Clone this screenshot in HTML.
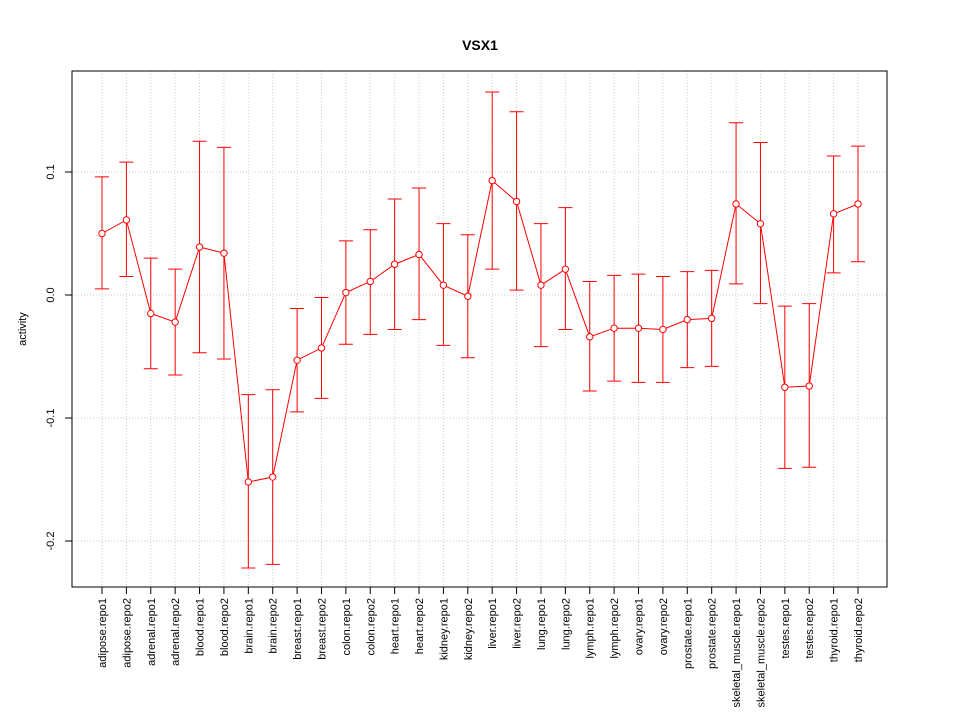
<!DOCTYPE html>
<html><head><meta charset="utf-8"><style>
body{margin:0;background:#fff;}
svg text{font-family:"Liberation Sans",sans-serif;}
</style></head><body>
<svg id="chart" width="960" height="720" xmlns="http://www.w3.org/2000/svg">
<rect width="960" height="720" fill="#fff"/>
<text x="480" y="50" text-anchor="middle" font-size="14" font-weight="bold">VSX1</text>
<text x="0" y="0" transform="translate(26,329) rotate(-90)" text-anchor="middle" font-size="11">activity</text>
<g id="grid"></g><g id="axes"></g><g id="marks"></g>
<rect x="72" y="71" width="815" height="516" fill="none" stroke="#000"/>
</svg>
<script>
const categories=["adipose.repo1","adipose.repo2","adrenal.repo1","adrenal.repo2","blood.repo1","blood.repo2","brain.repo1","brain.repo2","breast.repo1","breast.repo2","colon.repo1","colon.repo2","heart.repo1","heart.repo2","kidney.repo1","kidney.repo2","liver.repo1","liver.repo2","lung.repo1","lung.repo2","lymph.repo1","lymph.repo2","ovary.repo1","ovary.repo2","prostate.repo1","prostate.repo2","skeletal_muscle.repo1","skeletal_muscle.repo2","testes.repo1","testes.repo2","thyroid.repo1","thyroid.repo2"];
const values=[0.050,0.061,-0.015,-0.022,0.039,0.034,-0.152,-0.148,-0.053,-0.043,0.002,0.011,0.025,0.033,0.008,-0.001,0.093,0.076,0.008,0.021,-0.034,-0.027,-0.027,-0.028,-0.020,-0.019,0.074,0.058,-0.075,-0.074,0.066,0.074];
const upper=[0.096,0.108,0.030,0.021,0.125,0.120,-0.081,-0.077,-0.011,-0.002,0.044,0.053,0.078,0.087,0.058,0.049,0.165,0.149,0.058,0.071,0.011,0.016,0.017,0.015,0.019,0.020,0.140,0.124,-0.009,-0.007,0.113,0.121];
const lower=[0.005,0.015,-0.060,-0.065,-0.047,-0.052,-0.222,-0.219,-0.095,-0.084,-0.040,-0.032,-0.028,-0.020,-0.041,-0.051,0.021,0.004,-0.042,-0.028,-0.078,-0.070,-0.071,-0.071,-0.059,-0.058,0.009,-0.007,-0.141,-0.140,0.018,0.027];
const yTicks=[-0.2,-0.1,0.0,0.1];
const yTickLabels=["-0.2","-0.1","0.0","0.1"];
const NS="http://www.w3.org/2000/svg";
const xS=i=>102+i*(858-102)/(categories.length-1);
const yS=v=>295-v*1230;
function mk(tag,attrs,parent){const e=document.createElementNS(NS,tag);for(const k in attrs)e.setAttribute(k,attrs[k]);parent.appendChild(e);return e;}
const grid=document.getElementById('grid'),axes=document.getElementById('axes'),marks=document.getElementById('marks');
categories.forEach((c,i)=>{
 const g=mk('line',{x1:xS(i),x2:xS(i),y1:71,y2:587,stroke:'#ccc','stroke-dasharray':'1,2'},grid);
 
 
 const t=mk('line',{x1:xS(i),x2:xS(i),y1:587,y2:594,stroke:'#000'},axes);
 
 
 const l=mk('text',{x:0,y:0,transform:`translate(${xS(i)+4},598) rotate(-90)`,'text-anchor':'end','font-size':'11'},axes);
 l.textContent=c;
 
 
});
yTicks.forEach((v,i)=>{
 const g=mk('line',{x1:72,x2:887,y1:yS(v),y2:yS(v),stroke:'#ccc','stroke-dasharray':'1,2'},grid);
 
 
 const t=mk('line',{x1:65,x2:72,y1:yS(v),y2:yS(v),stroke:'#000'},axes);
 
 
 const l=mk('text',{x:0,y:0,transform:`translate(54,${yS(v)}) rotate(-90)`,'text-anchor':'middle','font-size':'11'},axes);
 l.textContent=yTickLabels[i];
 
 
});
const line=mk('polyline',{points:values.map((v,i)=>xS(i)+','+yS(v)).join(' '),fill:'none',stroke:'#f00'},marks);


values.forEach((v,i)=>{
 const x=xS(i);
 const e=mk('path',{d:`M${x},${yS(lower[i])}V${yS(upper[i])}M${x-7},${yS(upper[i])}H${x+7}M${x-7},${yS(lower[i])}H${x+7}`,stroke:'#f00',fill:'none'},marks);
 
 
 const p=mk('circle',{cx:x,cy:yS(v),r:3.2,fill:'#fff',stroke:'#f00'},marks);
 
 
});
</script>
</body></html>
